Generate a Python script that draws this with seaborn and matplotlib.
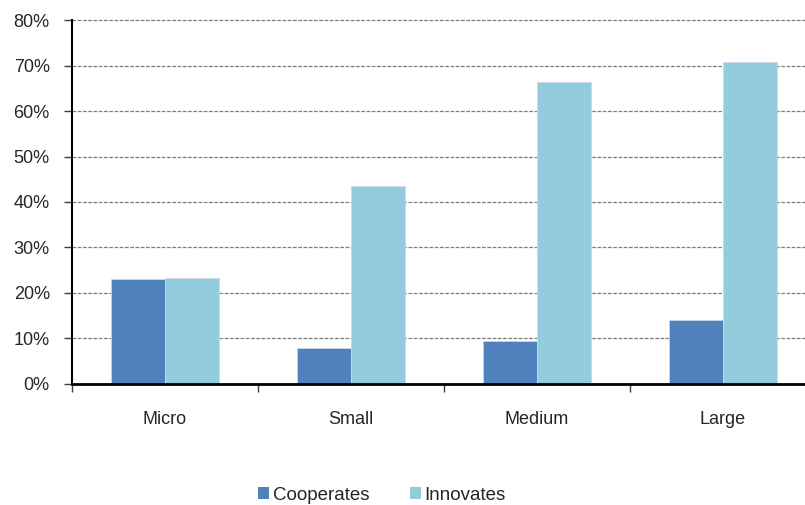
import matplotlib
matplotlib.use("Agg")
import matplotlib.pyplot as plt
from matplotlib.patches import Patch
from matplotlib.ticker import FixedLocator, FuncFormatter
import seaborn as sns
import pandas as pd

categories = ["Micro", "Small", "Medium", "Large"]
cooperates = [23.0, 7.8, 9.4, 13.9]
innovates = [23.3, 43.5, 66.4, 70.8]
series_names = ["Cooperates", "Innovates"]
colors = ["#4F81BD", "#93CDDD"]
y_ticks = [0, 10, 20, 30, 40, 50, 60, 70, 80]

df = pd.DataFrame({
    "size": categories * 2,
    "share": cooperates + innovates,
    "series": [series_names[0]] * len(categories) + [series_names[1]] * len(categories),
})

sns.set_style("white")
plt.rcParams["font.family"] = ["Liberation Sans", "DejaVu Sans"]

fig = plt.figure(figsize=(8.05, 5.05), dpi=100)
ax = fig.add_axes([72 / 805, 1 - 383.5 / 505, 733 / 805, (383.5 - 20.5) / 505])

sns.barplot(data=df, x="size", y="share", hue="series", order=categories,
            hue_order=series_names, palette=colors, width=0.58, gap=0,
            saturation=1, edgecolor="#c9d8ea", linewidth=0.6, legend=False, ax=ax)

ax.set_xlim(-0.5, 3.5 - 11 / 186)
ax.set_ylim(0, 80)
ax.set_xlabel("")
ax.set_ylabel("")

ax.yaxis.set_major_locator(FixedLocator(y_ticks))
ax.yaxis.set_major_formatter(FuncFormatter(lambda v, _: f"{v:.0f}%"))
for v in y_ticks[1:]:
    ax.axhline(v, color="#7f7f7f", linestyle=(0, (3, 1.2)), linewidth=0.9,
               zorder=0, clip_on=False)

ax.tick_params(axis="y", which="major", direction="out", length=6, width=1,
               color="#404040", labelsize=13, pad=10, left=True)
ax.set_xticks(range(len(categories)))
ax.set_xticklabels(categories)
ax.tick_params(axis="x", which="major", length=0, labelsize=13, pad=20)
ax.set_xticks([-0.5, 0.5, 1.5, 2.5], minor=True)
ax.tick_params(axis="x", which="minor", direction="out", length=6, width=1,
               color="#404040", bottom=True)

for side in ["top", "right"]:
    ax.spines[side].set_visible(False)
ax.spines["left"].set_color("black")
ax.spines["left"].set_linewidth(1.5)
ax.spines["bottom"].set_color("black")
ax.spines["bottom"].set_linewidth(2)
ax.set_axisbelow(True)

handles = [Patch(facecolor=c, edgecolor="none") for c in colors]
fig.legend(handles, series_names, loc="center", bbox_to_anchor=(382 / 805, 1 - 495 / 505),
           ncol=2, frameon=False, fontsize=13.5, handlelength=0.55, handleheight=0.55,
           handletextpad=0.2, columnspacing=2.2)

fig.savefig("out.png", dpi=100)
